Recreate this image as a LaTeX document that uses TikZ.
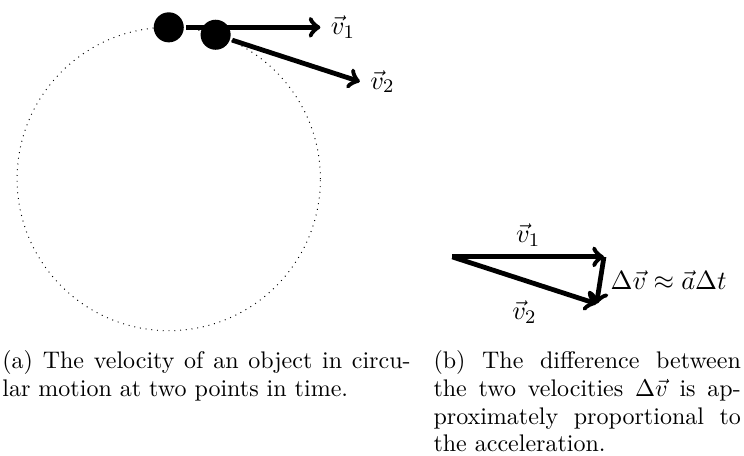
\documentclass[tikz,border=0pt]{standalone}
\usepackage{amsmath, amssymb}
\usepackage{tikz}
\usetikzlibrary{arrows.meta, positioning, calc}

\begin{document}
\begin{tikzpicture}[>=to, line width=2pt, every node/.style={font=\fontsize{10.95}{13.6}\selectfont}]
        \useasboundingbox (0,0) rectangle (10.89,6.66);
        % Circular path with the object at two times
        \coordinate (centre) at (2.47,4.04);
        \draw[line width=0.4pt, dotted] (centre) circle (2.22);
        \node[circle, fill, inner sep=0pt, minimum size=0.44cm] (ball1) at ($(centre)+(90:2.22)$) {};
        \coordinate (tip1) at ($(ball1)+(0:2.22)$);
        \draw[->] (ball1) -- (tip1) node[right] (vone) {$\vec{v}_1$};
        \node[circle, fill, inner sep=0pt, minimum size=0.44cm] (ball2) at ($(centre)+(72:2.22)$) {};
        \coordinate (tip2) at ($(ball2)+(-18:2.22)$);
        \draw[->] (ball2) -- (tip2) node[right] (vtwo) {$\vec{v}_2$};
        % Velocity difference
        \coordinate (start) at (6.62,2.90);
        \coordinate (end1) at ($(start)+(0:2.22)$);
        \coordinate (end2) at ($(start)+(-18:2.22)$);
        \draw[->] (start) -- (end1) node[midway, above] (dvone) {$\vec{v}_1$};
        \draw[->] (start) -- (end2) node[midway, below=4pt] (dvtwo) {$\vec{v}_2$};
        \draw[->] (end1) -- (end2) node[midway, right] (dv) {$\Delta\vec{v} \approx \vec{a}\Delta t$};
        % Captions
        \node[anchor=north west, inner sep=0pt, text width=170pt, align=justify,
            font=\fontsize{10}{11.5}\selectfont] (capa) at (0,1.56)
            {(a) The velocity of an object in circu-\linebreak lar motion at two points in time.};
        \node[anchor=north west, inner sep=0pt, text width=128pt, align=justify,
            font=\fontsize{10}{11.5}\selectfont] (capb) at (6.31,1.56)
            {(b) The difference between the two velocities $\Delta\vec{v}$ is approximately proportional to the acceleration.};
    \end{tikzpicture}
\end{document}
